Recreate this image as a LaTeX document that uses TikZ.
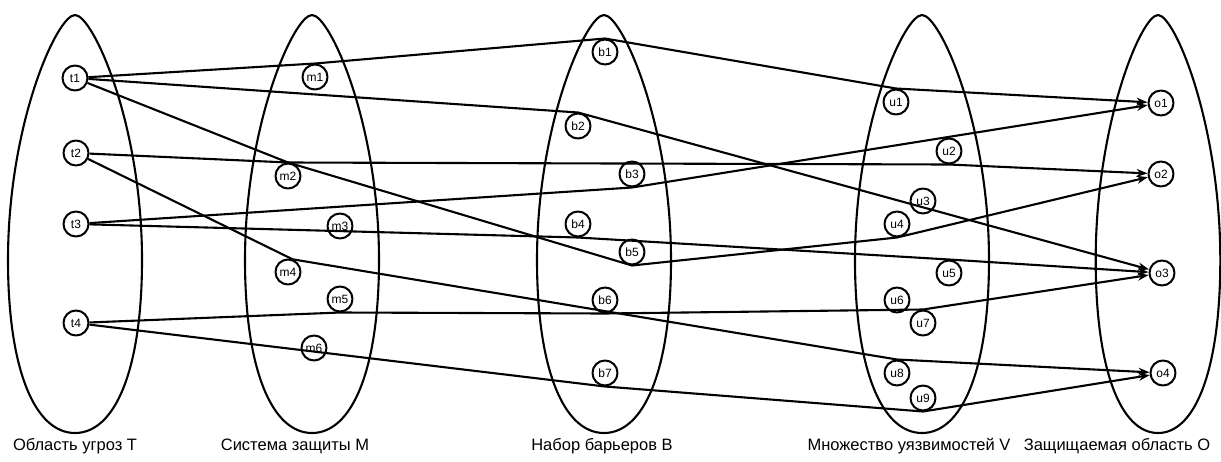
\documentclass[tikz,border=0pt]{standalone}
\usepackage{fontspec}
\setmainfont{Liberation Sans}
\usetikzlibrary{arrows.meta}
\begin{document}
\begin{tikzpicture}[x=1pt,y=-1pt,line join=round,
  ell/.style={line width=2.1pt},
  vtx/.style={circle,draw,line width=2pt,minimum size=25pt,inner sep=0pt,font=\fontsize{12}{13}\selectfont},
  conn/.style={line width=2.1pt},
  arr/.style={conn,-{Stealth[length=11pt,width=8pt]}},
  setlabel/.style={font=\fontsize{16.5}{18}\selectfont,inner sep=0pt},
  egg/.pic={\draw[ell] (0,15) .. controls (18,15) and (67,124) .. (67,260)
      .. controls (67,370) and (40,433) .. (0,433)
      .. controls (-40,433) and (-67,370) .. (-67,260)
      .. controls (-67,124) and (-18,15) .. (0,15) -- cycle;}]
\fill[white] (0,0) rectangle (1221,461);
\useasboundingbox (0,0) rectangle (1221,461);
% sets
\pic at (75,0) {egg};
\pic at (312,0) {egg};
\pic at (604,0) {egg};
\pic at (922,0) {egg};
\pic[xscale=0.93] at (1158,0) {egg};
% nodes
\node[vtx] (t1) at (75,78) {t1};
\node[vtx] (t2) at (76,153) {t2};
\node[vtx] (t3) at (76,224) {t3};
\node[vtx] (t4) at (76,323) {t4};
\node[vtx] (m1) at (315,77) {m1};
\node[vtx] (m2) at (288,176) {m2};
\node[vtx] (m3) at (340,226) {m3};
\node[vtx] (m4) at (288,272) {m4};
\node[vtx] (m5) at (340,299) {m5};
\node[vtx] (m6) at (314,348) {m6};
\node[vtx] (b1) at (605,52) {b1};
\node[vtx] (b2) at (578,126) {b2};
\node[vtx] (b3) at (632,174) {b3};
\node[vtx] (b4) at (578,224) {b4};
\node[vtx] (b5) at (632,252) {b5};
\node[vtx] (b6) at (605,300) {b6};
\node[vtx] (b7) at (605,373) {b7};
\node[vtx] (u1) at (896,102) {u1};
\node[vtx] (u2) at (949,151) {u2};
\node[vtx] (u3) at (923,201) {u3};
\node[vtx] (u4) at (897,224) {u4};
\node[vtx] (u5) at (949,273) {u5};
\node[vtx] (u6) at (897,300) {u6};
\node[vtx] (u7) at (923,323) {u7};
\node[vtx] (u8) at (897,373) {u8};
\node[vtx] (u9) at (923,398) {u9};
\node[vtx] (o1) at (1161,103) {o1};
\node[vtx] (o2) at (1161,174) {o2};
\node[vtx] (o3) at (1162,273) {o3};
\node[vtx] (o4) at (1163,373) {o4};
% connectors
\draw[arr] (t1) -- (m1.north) -- (b1.north) -- (u1.north) -- (o1);
\draw[arr] (t1) -- (b2.north) -- (o3);
\draw[arr] (t1) -- (m2.north) -- (b5.south) -- (u4.south) -- (o2);
\draw[arr] (t2) -- (m2.north) -- (u2.south) -- (o2);
\draw[arr] (t2) -- (m4.70) -- (b6.south west) -- (u8.north) -- (o4);
\draw[arr] (t3) -- (b3.south) -- (o1);
\draw[arr] (t3) -- (b4.south) -- (u5.north) -- (o3);
\draw[arr] (t4) -- (m5.south) -- (b6.south) -- (u7.north) -- (o3);
\draw[arr] (t4) -- (b7.south) -- (u9.south) -- (o4);
% labels
\node[setlabel] (lT) at (75,446) {Область угроз T};
\node[setlabel] (lM) at (295,446) {Система защиты M};
\node[setlabel] (lB) at (602,446) {Набор барьеров B};
\node[setlabel] (lV) at (909,446) {Множество уязвимостей V};
\node[setlabel] (lO) at (1117,446) {Защищаемая область O};
\end{tikzpicture}
\end{document}
